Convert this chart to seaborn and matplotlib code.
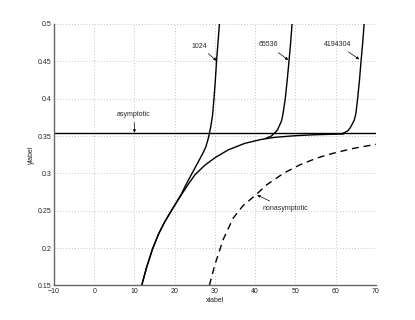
import matplotlib
matplotlib.use("Agg")
import matplotlib.pyplot as plt
import matplotlib.ticker as mticker
import seaborn as sns

# values
asym_level = 0.3536

# shared lower branch (followed by 65536 and 4194304 before they blow up)
common_x = [11.8, 13.0, 14.5, 16.0, 17.5, 19.5, 21.5, 23.3, 25.0, 27.5, 30.0,
            33.3, 37.4, 41.6, 44.9, 50.0, 55.0, 62.0]
common_y = [0.150, 0.174, 0.199, 0.219, 0.235, 0.253, 0.270, 0.285, 0.298,
            0.311, 0.321, 0.3315, 0.3402, 0.3456, 0.3483, 0.3505, 0.3518, 0.3528]

# N = 1024 leaves the shared branch early
n1024_x = [11.8, 13.0, 14.5, 16.0, 17.5, 19.5, 21.5, 23.0, 24.5, 25.8, 26.9,
           27.7, 28.2, 28.6, 29.0, 29.4, 29.75, 30.1, 30.4, 30.75, 31.1]
n1024_y = [0.150, 0.174, 0.199, 0.219, 0.235, 0.253, 0.271, 0.287, 0.302,
           0.315, 0.326, 0.335, 0.344, 0.353, 0.364, 0.378, 0.400, 0.425,
           0.451, 0.475, 0.500]

n65536_x = [42.5, 44.0, 45.0, 45.5, 46.1, 46.6, 47.0, 47.47, 47.95, 48.4, 48.8, 49.15]
n65536_y = [0.3465, 0.350, 0.355, 0.358, 0.365, 0.3714, 0.383, 0.4005, 0.425,
            0.451, 0.475, 0.500]

n4194304_x = [61.5, 62.3, 63.0, 63.5, 64.0, 64.6, 65.0, 65.45, 65.9, 66.3, 66.7, 67.05]
n4194304_y = [0.3530, 0.355, 0.357, 0.3603, 0.365, 0.3714, 0.380, 0.4005, 0.425,
              0.451, 0.475, 0.500]

nonasym_x = [28.6, 30.0, 32.0, 34.5, 37.0, 40.0, 42.8, 47.0, 51.1, 55.3, 59.4, 64.4, 70.0]
nonasym_y = [0.150, 0.178, 0.211, 0.240, 0.257, 0.2705, 0.2845, 0.300, 0.3115,
             0.3205, 0.327, 0.3335, 0.3389]

xticks = [-10, 0, 10, 20, 30, 40, 50, 60, 70]
yticks = [0.15, 0.2, 0.25, 0.3, 0.35, 0.4, 0.45, 0.5]

sns.set_style("white")
plt.rcParams['font.family'] = ['Liberation Sans', 'DejaVu Sans']

fig = plt.figure(figsize=(4.15, 3.2), dpi=100)
ax = fig.add_axes([0.130, 0.108, 0.776, 0.817])

lw = 1.0
sns.lineplot(x=[-10, 70], y=[asym_level, asym_level], color='k', lw=lw, ax=ax)
sns.lineplot(x=common_x, y=common_y, color='k', lw=lw, sort=False, estimator=None, ax=ax)
sns.lineplot(x=n1024_x, y=n1024_y, color='k', lw=lw, sort=False, estimator=None, ax=ax)
sns.lineplot(x=n65536_x, y=n65536_y, color='k', lw=lw, sort=False, estimator=None, ax=ax)
sns.lineplot(x=n4194304_x, y=n4194304_y, color='k', lw=lw, sort=False, estimator=None, ax=ax)
sns.lineplot(x=nonasym_x, y=nonasym_y, color='k', lw=lw, sort=False, estimator=None,
             dashes=False, ax=ax)
ax.lines[-1].set_linestyle((0, (5, 3.5)))

ax.set_xlim(-10, 70)
ax.set_ylim(0.15, 0.5)
ax.set_xticks(xticks)
ax.set_yticks(yticks)
ax.yaxis.set_major_formatter(mticker.FormatStrFormatter('%g'))
ax.grid(True, linestyle=(0, (1, 2.5)), color='#b0b0b0', linewidth=0.6)
ax.tick_params(direction='in', length=3, width=0.6, labelsize=5, pad=2,
               colors='#333333', labelcolor='#222222')
for side in ['top', 'right']:
    ax.spines[side].set_visible(False)
for side in ['left', 'bottom']:
    ax.spines[side].set_color('#666666')
    ax.spines[side].set_linewidth(1.0)

ax.set_xlabel('xlabel', fontsize=5, labelpad=1, color='#222222')
ax.set_ylabel('ylabel', fontsize=5, labelpad=2, color='#222222')

arrow = dict(arrowstyle='-|>', color='k', lw=0.5, mutation_scale=4, shrinkA=1, shrinkB=0)
ax.annotate('1024', xy=(30.4, 0.451), xytext=(26.0, 0.4705), fontsize=5,
            ha='center', va='center', arrowprops=arrow)
ax.annotate('65536', xy=(48.2, 0.4518), xytext=(43.25, 0.4719), fontsize=5,
            ha='center', va='center', arrowprops=arrow)
ax.annotate('4194304', xy=(65.85, 0.4527), xytext=(60.4, 0.4728), fontsize=5,
            ha='center', va='center', arrowprops=arrow)
ax.annotate('asymptotic', xy=(10.0, 0.3545), xytext=(9.9, 0.379), fontsize=5,
            ha='center', va='center', arrowprops=arrow)
ax.annotate('nonasymptotic', xy=(40.5, 0.271), xytext=(47.4, 0.2532), fontsize=5,
            ha='center', va='center', arrowprops=arrow)

fig.savefig('out.png', dpi=100)
